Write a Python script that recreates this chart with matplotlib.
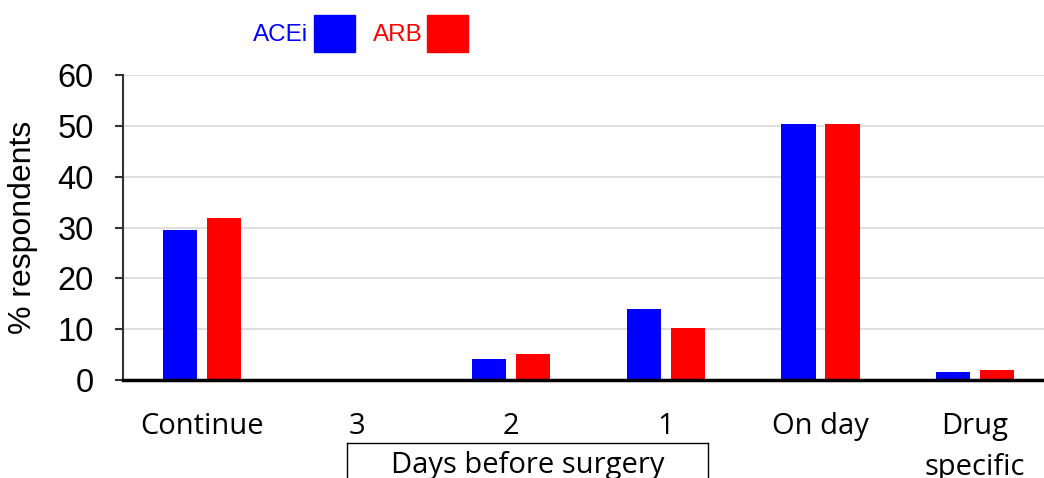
import matplotlib
matplotlib.use("Agg")
import matplotlib.pyplot as plt
from matplotlib.patches import Rectangle
from matplotlib.lines import Line2D
import numpy as np

categories = ["Continue", "3", "2", "1", "On day", "Drug\nspecific"]
acei = [29.6, 0.0, 4.1, 14.0, 50.4, 1.5]
arb = [31.9, 0.0, 5.2, 10.2, 50.4, 2.0]
series_names = ["ACEi", "ARB"]
colors = ["#0000ff", "#ff0000"]
yticks = [0, 10, 20, 30, 40, 50, 60]

W, H = 1044, 478
fig = plt.figure(figsize=(W / 100, H / 100), dpi=100)
ax = fig.add_axes([123 / W, 1 - 380 / H, 1 - 123 / W, (380 - 75) / H])

x = np.arange(len(categories))
bw = 0.222
off = 0.142
ax.bar(x - off, acei, bw, color=colors[0], zorder=3)
ax.bar(x + off, arb, bw, color=colors[1], zorder=3)

ax.set_xlim(-0.511, 5.446)
ax.set_ylim(0, 60)
ax.set_yticks(yticks)
ax.set_yticklabels([str(v) for v in yticks], fontsize=23.5, family="Liberation Sans")
ax.yaxis.grid(True, color="#d9d9d9", linewidth=1.2, zorder=0)
ax.set_axisbelow(True)
ax.tick_params(axis="y", length=6, width=1.5, direction="out", pad=15, color="#333333")
ax.set_xticks(x)
ax.set_xticklabels(categories, fontsize=21, family="Open Sans", linespacing=1.55,
                   va="top")
ax.tick_params(axis="x", length=0, pad=23)

for s in ["top", "right"]:
    ax.spines[s].set_visible(False)
ax.spines["left"].set_color("#333333")
ax.spines["left"].set_linewidth(1.5)
ax.spines["bottom"].set_color("black")
ax.spines["bottom"].set_linewidth(2.5)
ax.spines["bottom"].set_zorder(5)

ax.set_ylabel("% respondents", fontsize=23, family="Liberation Sans", labelpad=14)

def fx(px):
    return px / W

def fy(py):
    return 1 - py / H

# legend (manual, matching reference layout)
fig.text(fx(308), fy(35), series_names[0], color=colors[0], fontsize=17.5,
         family="Liberation Sans", ha="right", va="center")
fig.patches.append(Rectangle((fx(314), fy(52)), fx(355) - fx(314), fy(15) - fy(52),
                             transform=fig.transFigure, color=colors[0]))
fig.text(fx(423), fy(35), series_names[1], color=colors[1], fontsize=17.5,
         family="Liberation Sans", ha="right", va="center")
fig.patches.append(Rectangle((fx(427), fy(52)), fx(468) - fx(427), fy(15) - fy(52),
                             transform=fig.transFigure, color=colors[1]))

# "Days before surgery" bracket box
bx0, bx1, by0 = 347, 708, 443
for (xa, ya, xb, yb) in [(bx0, by0, bx1, by0), (bx0, by0, bx0, 490), (bx1, by0, bx1, 490)]:
    fig.lines.append(Line2D([fx(xa), fx(xb)], [fy(ya), fy(yb)], transform=fig.transFigure,
                            color="black", linewidth=1.0))
fig.text(fx((bx0 + bx1) / 2), fy(466), "Days before surgery", fontsize=21,
         family="Open Sans", ha="center", va="center")

fig.savefig("out.png", dpi=100)
